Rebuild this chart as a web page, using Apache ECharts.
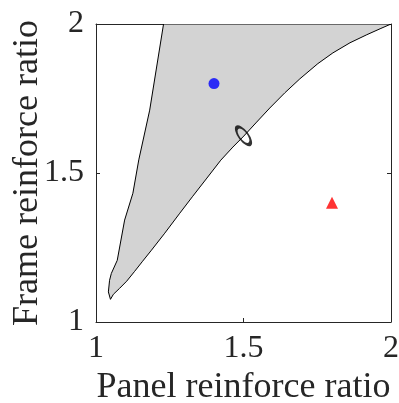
<!DOCTYPE html>
<html>
<head>
<meta charset="utf-8">
<script src="https://cdn.jsdelivr.net/npm/echarts@6/dist/echarts.min.js"></script>
<style>
  html, body { margin: 0; padding: 0; background: #ffffff; }
  #chart { width: 399px; height: 403px; }
</style>
</head>
<body>
<div id="chart"></div>
<script>
// Axis tick values
const xTicks = [1, 1.5, 2];
const yTicks = [1, 1.5, 2];

// Boundary of the shaded feasible region, traced from the top-left corner
// down the left edge to the tip, then back up the right edge to (2, 2).
const regionX = [1.229, 1.182, 1.145, 1.125, 1.097, 1.072, 1.052, 1.046, 1.042, 1.049,
                 1.059, 1.080, 1.104, 1.131, 1.158, 1.188, 1.233, 1.284, 1.328, 1.376,
                 1.423, 1.464, 1.501, 1.542, 1.589, 1.640, 1.691, 1.752, 1.803, 1.861,
                 1.918, 1.963, 2.000];
const regionY = [2.000, 1.711, 1.544, 1.432, 1.342, 1.207, 1.163, 1.140, 1.101, 1.076,
                 1.093, 1.113, 1.137, 1.170, 1.204, 1.241, 1.298, 1.365, 1.422, 1.483,
                 1.543, 1.587, 1.624, 1.668, 1.718, 1.769, 1.816, 1.867, 1.903, 1.937,
                 1.964, 1.984, 2.000];

// Design points
const bluePoint = [1.4, 1.8];
const redPoint = [1.8, 1.4];
const optimumPoint = [1.5, 1.625];

const chart = echarts.init(document.getElementById('chart'), null, { renderer: 'canvas' });

const FONT = '"Liberation Serif", "Times New Roman", serif';
const INK = '#262626';

const regionPoints = regionX.map((x, i) => [x, regionY[i]]);

const sideAxis = {
  type: 'value', min: 1, max: 2, interval: 0.5,
  axisLine: { show: true, onZero: false, lineStyle: { color: INK, width: 1 } },
  axisTick: { show: true, inside: true, length: 4, lineStyle: { color: INK } },
  axisLabel: { show: false },
  splitLine: { show: false }
};

chart.setOption({
  animation: false,
  backgroundColor: '#ffffff',
  textStyle: { fontFamily: FONT, color: INK },
  grid: { left: 96, right: 8, top: 24, bottom: 81, containLabel: false, outerBoundsMode: 'none' },
  xAxis: [
    {
      type: 'value', min: xTicks[0], max: xTicks[xTicks.length - 1], interval: 0.5,
      name: 'Panel reinforce ratio', nameLocation: 'middle', nameGap: 48, nameMoveOverlap: false,
      nameTextStyle: { fontFamily: FONT, fontSize: 36, color: INK },
      axisLine: { show: true, onZero: false, lineStyle: { color: INK, width: 1 } },
      axisTick: { show: true, inside: true, length: 4, lineStyle: { color: INK } },
      axisLabel: { fontFamily: FONT, fontSize: 32, color: INK, margin: 11,
                   formatter: v => String(v) },
      splitLine: { show: false }
    },
    Object.assign({ position: 'top' }, sideAxis)
  ],
  yAxis: [
    {
      type: 'value', min: yTicks[0], max: yTicks[yTicks.length - 1], interval: 0.5,
      name: 'Frame reinforce ratio', nameLocation: 'middle', nameGap: 50, nameRotate: 90,
      nameMoveOverlap: false,
      nameTextStyle: { fontFamily: FONT, fontSize: 36, color: INK },
      axisLine: { show: true, onZero: false, lineStyle: { color: INK, width: 1 } },
      axisTick: { show: true, inside: true, length: 4, lineStyle: { color: INK } },
      axisLabel: { fontFamily: FONT, fontSize: 32, color: INK, margin: 12,
                   formatter: v => String(v) },
      splitLine: { show: false }
    },
    Object.assign({ position: 'right' }, sideAxis)
  ],
  series: [
    {
      // shaded region
      type: 'custom',
      xAxisIndex: 0, yAxisIndex: 0,
      clip: true,
      data: [0],
      renderItem: function (params, api) {
        const pts = regionPoints.map(p => api.coord(p));
        return {
          type: 'polygon',
          shape: { points: pts },
          style: { fill: '#d3d3d3', stroke: '#000000', lineWidth: 1 }
        };
      },
      z: 1
    },
    {
      type: 'scatter', symbol: 'circle', symbolSize: 11,
      itemStyle: { color: '#0000ff' },
      data: [bluePoint], z: 3
    },
    {
      type: 'scatter', symbol: 'triangle', symbolSize: 12,
      itemStyle: { color: '#ff0000' },
      data: [redPoint], z: 3
    },
    {
      type: 'scatter', symbol: 'circle', symbolSize: [9, 21], symbolRotate: 37,
      itemStyle: { color: 'rgba(0,0,0,0)', borderColor: '#000000', borderWidth: 2.5 },
      data: [optimumPoint], z: 3
    }
  ]
});
</script>
</body>
</html>
